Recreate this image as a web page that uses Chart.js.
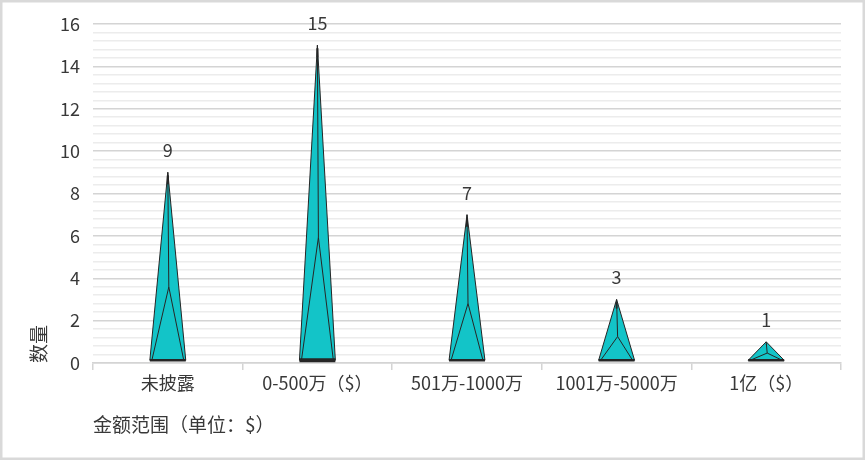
<!DOCTYPE html>
<html>
<head>
<meta charset="utf-8">
<script src="https://cdn.jsdelivr.net/npm/chart.js@4/dist/chart.umd.min.js"></script>
<style>
  body { margin: 0; background: #fff; }
  #wrap { width: 865px; height: 460px; }
</style>
</head>
<body>
<div id="wrap"><canvas id="chart" width="865" height="460"></canvas></div>
<script>
const categories = ["未披露", "0-500万（$）", "501万-1000万", "1001万-5000万", "1亿（$）"];
const counts = [9, 15, 7, 3, 1];
const yMax = 16;
const majorStep = 2;
const minorStep = 0.4;
const xTitle = "金额范围（单位：$）";
const yTitle = "数量";

const fontFamily = "'Noto Sans CJK SC', 'Noto Sans', sans-serif";
const textColor = "#383838";
const teal = "#13c4c8";
const edge = "#262626";

function isMajor(v) {
  const r = v / majorStep;
  return Math.abs(r - Math.round(r)) < 1e-6;
}

// frame around the whole picture
const framePlugin = {
  id: "frame",
  beforeDraw(chart) {
    const c = chart.ctx;
    c.save();
    c.fillStyle = "#fff";
    c.fillRect(0, 0, chart.width, chart.height);
    c.strokeStyle = "#d9d9d9";
    c.lineWidth = 2.5;
    c.strokeRect(1.25, 1.25, chart.width - 2.5, chart.height - 2.5);
    c.restore();
  }
};

// draw each bar as a pyramid, plus its value on top
const pyramidPlugin = {
  id: "pyramid",
  afterDatasetsDraw(chart) {
    const c = chart.ctx;
    const meta = chart.getDatasetMeta(0);
    meta.data.forEach((bar, i) => {
      const { x, y, base, width } = bar.getProps(["x", "y", "base", "width"], true);
      const b = base - 2;
      const l = x - width / 2, r = x + width / 2;
      const inner = b - (b - y) * 0.39;

      c.save();
      c.beginPath();
      c.moveTo(l, b);
      c.lineTo(x, y);
      c.lineTo(r, b);
      c.closePath();
      c.fillStyle = teal;
      c.fill();
      c.strokeStyle = edge;
      c.lineWidth = 1;
      c.stroke();

      // back edges
      c.beginPath();
      c.moveTo(l + 2, b);
      c.lineTo(x + 1, inner);
      c.lineTo(r - 2, b);
      c.moveTo(x, y);
      c.lineTo(x + 1, inner);
      c.stroke();

      // dark tip
      c.lineWidth = 2;
      c.beginPath();
      c.moveTo(x, y + 3);
      c.lineTo(x, y + Math.min(12, (b - y) * 0.15));
      c.stroke();

      // base
      c.lineWidth = i === 1 ? 4 : 2.5;
      c.beginPath();
      c.moveTo(l, b);
      c.lineTo(r, b);
      c.stroke();

      // value label
      c.fillStyle = textColor;
      c.font = "18px " + fontFamily;
      c.textAlign = "center";
      c.textBaseline = "middle";
      c.fillText(String(counts[i]), x, y - 22);
      c.restore();
    });
  }
};

new Chart(document.getElementById("chart"), {
  type: "bar",
  data: {
    labels: categories,
    datasets: [{
      data: counts,
      backgroundColor: "rgba(0,0,0,0)",
      borderWidth: 0,
      categoryPercentage: 1,
      barPercentage: 0.24
    }]
  },
  options: {
    responsive: false,
    devicePixelRatio: 1,
    animation: false,
    layout: { padding: { top: 24, right: 24, bottom: 0, left: 0 } },
    plugins: {
      legend: { display: false },
      tooltip: { enabled: false }
    },
    scales: {
      x: {
        afterFit: (s) => { s.height = 97; },
        grid: {
          display: true,
          drawOnChartArea: false,
          drawTicks: true,
          tickLength: 7,
          color: "#d4d4d4",
          lineWidth: 1.5
        },
        border: { display: true, color: "#d4d4d4", width: 1.5 },
        ticks: {
          color: textColor,
          padding: 2,
          maxRotation: 0,
          autoSkip: false,
          font: { family: fontFamily, size: 18 }
        },
        title: {
          display: true,
          text: xTitle,
          align: "start",
          color: textColor,
          font: { family: fontFamily, size: 19 },
          padding: { top: 0, bottom: 24 }
        }
      },
      y: {
        min: 0,
        max: yMax,
        afterFit: (s) => { s.width = 93; },
        border: { display: false },
        grid: {
          drawTicks: false,
          color: (ctx) => isMajor(ctx.tick.value) ? "#d4d4d4" : "#ececec",
          lineWidth: 1.5
        },
        ticks: {
          stepSize: minorStep,
          maxTicksLimit: 100,
          autoSkip: false,
          padding: 13,
          color: textColor,
          font: { family: fontFamily, size: 18 },
          callback: (v) => isMajor(v) ? String(Math.round(v)) : ""
        },
        title: {
          display: true,
          text: yTitle,
          align: "start",
          color: textColor,
          font: { family: fontFamily, size: 19 },
          padding: { top: 27, bottom: 0 }
        }
      }
    }
  },
  plugins: [framePlugin, pyramidPlugin]
});
</script>
</body>
</html>
